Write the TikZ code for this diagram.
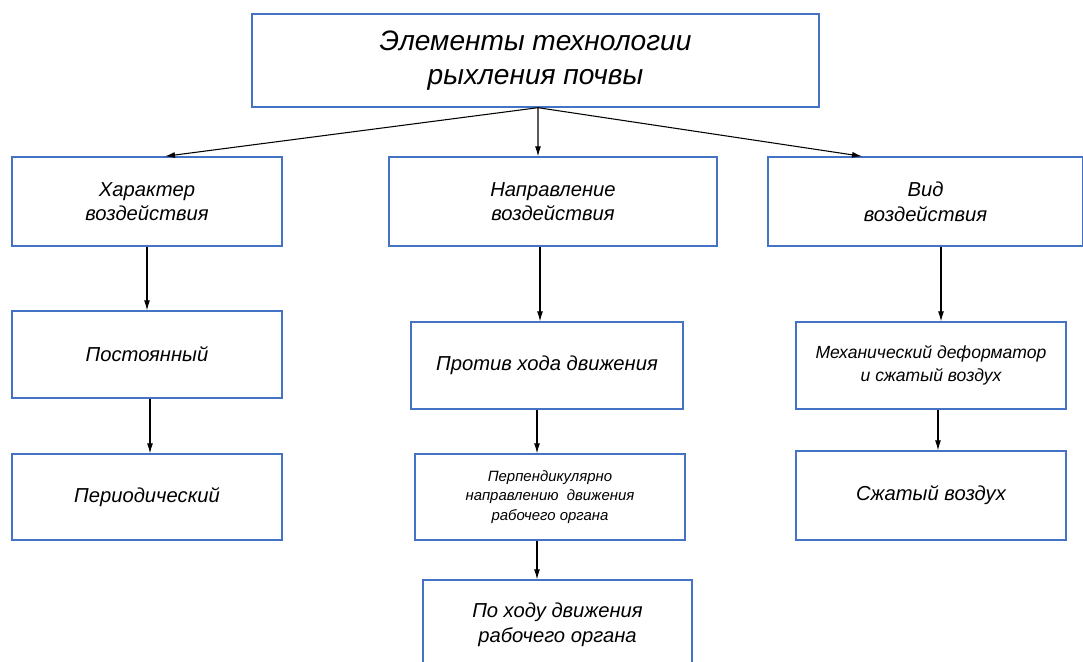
\documentclass[tikz,border=0pt]{standalone}
\usepackage{fontspec}
\setmainfont{Liberation Sans}
\usepackage{tikz}
\usetikzlibrary{arrows.meta}

\definecolor{frameblue}{HTML}{4472C4}

\begin{document}
\begin{tikzpicture}[
    x=0.02cm, y=-0.02cm,
    >={Latex[length=2mm, width=1.2mm]},
    box/.style={
        rectangle, draw=frameblue, line width=0.8pt,
        align=center, inner sep=2pt,
        font=\itshape\fontsize{11.5}{14}\selectfont
    },
    titlebox/.style={
        box, minimum width=11.34cm, minimum height=1.86cm,
        font=\itshape\fontsize{16}{19}\selectfont
    },
    smalltext/.style={font=\itshape\fontsize{8.5}{11}\selectfont},
    midtext/.style={font=\itshape\fontsize{10}{13}\selectfont},
    link/.style={->, line width=0.6pt, black}
]
    \useasboundingbox (0,0) rectangle (1083,662);

    % top
    \node [titlebox] (top) at (535.5,60.5) {Элементы технологии\\рыхления почвы};
    \coordinate (fork) at ([xshift=0.05cm]top.south);

    % first row
    \node [box, minimum width=5.4cm, minimum height=1.78cm] (char) at (147,201.5) {Характер\\воздействия};
    \node [box, minimum width=6.56cm, minimum height=1.78cm] (dir) at (553,201.5) {Направление\\воздействия};
    \node [box, minimum width=6.3cm, minimum height=1.78cm] (kind) at (925.5,201.5) {Вид\\воздействия};

    % left column
    \node [box, minimum width=5.4cm, minimum height=1.74cm] (const) at (147,354.5) {Постоянный};
    \node [box, minimum width=5.4cm, minimum height=1.72cm] (period) at (147,497) {Периодический};

    % middle column
    \node [box, minimum width=5.44cm, minimum height=1.74cm] (against) at (547,365.5) {Против хода движения};
    \node [box, smalltext, minimum width=5.4cm, minimum height=1.72cm] (perp) at (550,497) {Перпендикулярно\\направлению\ \ движения\\рабочего органа};
    \node [box, minimum width=5.38cm, minimum height=1.8cm] (along) at (557.5,625) {По ходу движения\\рабочего органа};

    % right column
    \node [box, midtext, minimum width=5.4cm, minimum height=1.74cm] (mech) at (931,365.5) {Механический деформатор\\и сжатый воздух};
    \node [box, minimum width=5.4cm, minimum height=1.78cm] (air) at (931,495.5) {Сжатый воздух};

    % Arrows
    \draw [link] (fork) -- ([xshift=0.36cm]char.north);
    \draw [link] (fork) -- ([xshift=-0.3cm]dir.north);
    \draw [link] (fork) -- ([xshift=-1.27cm]kind.north);

    \draw [link] (char.south) -- (char.south |- const.north);
    \draw [link] ([xshift=0.06cm]const.south) -- ([xshift=0.06cm]const.south |- period.north);

    \draw [link] ([xshift=-0.26cm]dir.south) -- ([xshift=-0.26cm]dir.south |- against.north);
    \draw [link] ([xshift=-0.2cm]against.south) -- ([xshift=-0.2cm]against.south |- perp.north);
    \draw [link] ([xshift=-0.26cm]perp.south) -- ([xshift=-0.26cm]perp.south |- along.north);

    \draw [link] ([xshift=0.31cm]kind.south) -- ([xshift=0.31cm]kind.south |- mech.north);
    \draw [link] ([xshift=0.14cm]mech.south) -- ([xshift=0.14cm]mech.south |- air.north);

\end{tikzpicture}
\end{document}
